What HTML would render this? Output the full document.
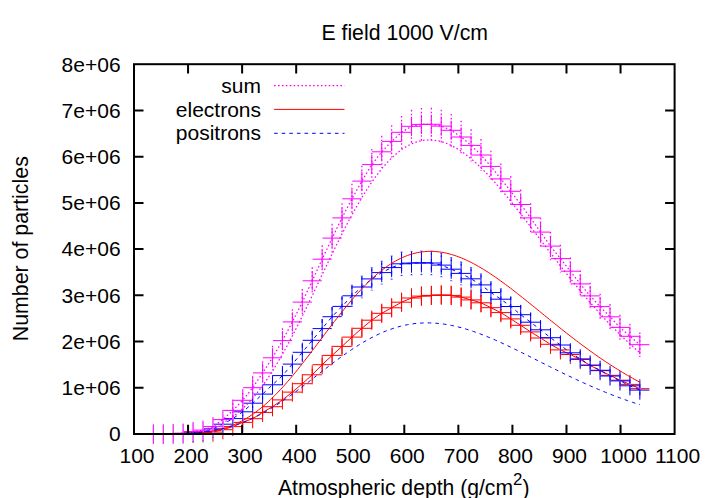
<!DOCTYPE html>
<html><head><meta charset="utf-8"><title>E field 1000 V/cm</title>
<style>html,body{margin:0;padding:0;background:#fff;}svg{display:block;}text{font-family:"Liberation Sans",sans-serif;font-size:21px;fill:#000;}</style></head><body>
<svg width="709" height="498" viewBox="0 0 709 498">
<rect x="0" y="0" width="709" height="498" fill="#fff"/>
<g fill="none" stroke-width="1" stroke-linecap="butt" stroke-linejoin="round">
<path d="M153.40,434.30 L163.33,434.30 L173.25,434.10 L183.18,433.90 L193.11,433.40 L203.03,432.90 L212.96,432.10 L222.89,429.70 L232.82,426.60 L242.74,422.40 L252.67,418.70 L262.60,412.40 L272.52,406.70 L282.45,399.90 L292.38,392.10 L302.31,383.70 L312.23,374.80 L322.16,364.70 L332.09,355.40 L342.01,346.40 L351.94,337.10 L361.87,328.30 L371.79,320.20 L381.72,313.30 L391.65,307.80 L401.57,302.20 L411.50,298.00 L421.43,296.10 L431.36,295.40 L441.28,295.00 L451.21,295.40 L461.14,297.10 L471.06,299.90 L480.99,302.80 L490.92,307.70 L500.85,312.60 L510.77,318.90 L520.70,325.30 L530.63,331.90 L540.55,338.00 L550.48,344.30 L560.41,349.90 L570.33,354.50 L580.26,359.50 L590.19,365.40 L600.12,370.70 L610.04,375.30 L619.97,380.20 L629.90,384.40 L639.82,388.70" stroke="#ff0000"/>
<path d="M153.40,434.30V434.30M163.33,434.30V434.30M173.25,433.74V434.46M183.18,433.39V434.41M193.11,432.64V434.16M203.03,431.95V433.85M212.96,430.91V433.29M222.89,427.98V431.42M232.82,424.38V428.82M242.74,419.64V425.16M252.67,415.54V421.86M262.60,408.66V416.14M272.52,402.50V410.90M282.45,395.21V404.59M292.38,386.90V397.30M302.31,378.01V389.39M312.23,368.63V380.97M322.16,358.03V371.37M332.09,348.29V362.51M342.01,338.90V353.90M351.94,329.21V344.99M361.87,320.06V336.54M371.79,311.65V328.75M381.72,304.50V322.10M391.65,298.80V316.80M401.57,293.01V311.39M411.50,288.66V307.34M421.43,286.70V305.50M431.36,285.97V304.83M441.28,285.56V304.44M451.21,285.97V304.83M461.14,287.73V306.47M471.06,290.63V309.17M480.99,293.63V311.97M490.92,298.70V316.70M500.85,303.77V321.43M510.77,310.31V327.49M520.70,316.95V333.65M530.63,323.80V340.00M540.55,330.15V345.85M550.48,336.71V351.89M560.41,342.55V357.25M570.33,347.35V361.65M580.26,352.58V366.42M590.19,358.76V372.04M600.12,364.32V377.08M610.04,369.16V381.44M619.97,374.32V386.08M629.90,378.75V390.05M639.82,383.30V394.10" stroke="#ff0000"/>
<path d="M143.80,434.30H163.00M153.40,424.70V443.90M153.73,434.30H172.93M163.33,424.70V443.90M163.65,434.10H182.85M173.25,424.50V443.70M173.58,433.90H192.78M183.18,424.30V443.50M183.51,433.40H202.71M193.11,423.80V443.00M193.44,432.90H212.63M203.03,423.30V442.50M203.36,432.10H222.56M212.96,422.50V441.70M213.29,429.70H232.49M222.89,420.10V439.30M223.22,426.60H242.42M232.82,417.00V436.20M233.14,422.40H252.34M242.74,412.80V432.00M243.07,418.70H262.27M252.67,409.10V428.30M253.00,412.40H272.20M262.60,402.80V422.00M262.92,406.70H282.12M272.52,397.10V416.30M272.85,399.90H292.05M282.45,390.30V409.50M282.78,392.10H301.98M292.38,382.50V401.70M292.70,383.70H311.91M302.31,374.10V393.30M302.63,374.80H321.83M312.23,365.20V384.40M312.56,364.70H331.76M322.16,355.10V374.30M322.49,355.40H341.69M332.09,345.80V365.00M332.41,346.40H351.61M342.01,336.80V356.00M342.34,337.10H361.54M351.94,327.50V346.70M352.27,328.30H371.47M361.87,318.70V337.90M362.19,320.20H381.39M371.79,310.60V329.80M372.12,313.30H391.32M381.72,303.70V322.90M382.05,307.80H401.25M391.65,298.20V317.40M391.97,302.20H411.18M401.57,292.60V311.80M401.90,298.00H421.10M411.50,288.40V307.60M411.83,296.10H431.03M421.43,286.50V305.70M421.76,295.40H440.96M431.36,285.80V305.00M431.68,295.00H450.88M441.28,285.40V304.60M441.61,295.40H460.81M451.21,285.80V305.00M451.54,297.10H470.74M461.14,287.50V306.70M461.46,299.90H480.66M471.06,290.30V309.50M471.39,302.80H490.59M480.99,293.20V312.40M481.32,307.70H500.52M490.92,298.10V317.30M491.25,312.60H510.45M500.85,303.00V322.20M501.17,318.90H520.37M510.77,309.30V328.50M511.10,325.30H530.30M520.70,315.70V334.90M521.03,331.90H540.23M530.63,322.30V341.50M530.95,338.00H550.15M540.55,328.40V347.60M540.88,344.30H560.08M550.48,334.70V353.90M550.81,349.90H570.01M560.41,340.30V359.50M560.73,354.50H579.93M570.33,344.90V364.10M570.66,359.50H589.86M580.26,349.90V369.10M580.59,365.40H599.79M590.19,355.80V375.00M590.51,370.70H609.72M600.12,361.10V380.30M600.44,375.30H619.64M610.04,365.70V384.90M610.37,380.20H629.57M619.97,370.60V389.80M620.30,384.40H639.50M629.90,374.80V394.00M630.22,388.70H649.42M639.82,379.10V398.30" stroke="#ff0000"/>
<path d="M153.40,424.70V443.90M163.33,424.60V443.80M173.25,424.40V443.60M183.18,424.00V443.20M193.11,423.10V442.30M203.03,421.90V441.10M212.96,419.20V438.40M222.89,414.60V433.80M232.82,409.00V428.20M242.74,402.20V421.40M252.67,393.60V412.80M262.60,384.50V403.70M272.52,375.20V394.40M282.45,366.00V385.20M292.38,354.50V373.70M302.31,342.70V361.90M312.23,330.70V349.90M322.16,319.00V338.20M332.09,307.10V326.30M342.01,296.80V316.00M351.94,286.20V305.40M361.87,277.40V296.60M371.79,269.30V288.50M381.72,263.00V282.20M391.65,258.00V277.20M401.57,254.20V273.40M411.50,253.50V272.70M421.43,253.20V272.40M431.36,253.40V272.60M441.28,255.50V274.70M451.21,259.60V278.80M461.14,263.80V283.00M471.06,269.20V288.40M480.99,275.30V294.50M490.92,282.90V302.10M500.85,289.60V308.80M510.77,296.90V316.10M520.70,305.10V324.30M530.63,312.60V331.80M540.55,320.20V339.40M550.48,328.10V347.30M560.41,335.40V354.60M570.33,343.20V362.40M580.26,349.30V368.50M590.19,355.50V374.70M600.12,360.70V379.90M610.04,366.40V385.60M619.97,371.30V390.50M629.90,376.20V395.40M639.82,380.50V399.70" stroke="#fff" stroke-width="1.5"/>
<path d="M153.40,434.30 L163.33,434.20 L173.25,434.00 L183.18,433.60 L193.11,432.70 L203.03,431.50 L212.96,428.80 L222.89,424.20 L232.82,418.60 L242.74,411.80 L252.67,403.20 L262.60,394.10 L272.52,384.80 L282.45,375.60 L292.38,364.10 L302.31,352.30 L312.23,340.30 L322.16,328.60 L332.09,316.70 L342.01,306.40 L351.94,295.80 L361.87,287.00 L371.79,278.90 L381.72,272.60 L391.65,267.60 L401.57,263.80 L411.50,263.10 L421.43,262.80 L431.36,263.00 L441.28,265.10 L451.21,269.20 L461.14,273.40 L471.06,278.80 L480.99,284.90 L490.92,292.50 L500.85,299.20 L510.77,306.50 L520.70,314.70 L530.63,322.20 L540.55,329.80 L550.48,337.70 L560.41,345.00 L570.33,352.80 L580.26,358.90 L590.19,365.10 L600.12,370.30 L610.04,376.00 L619.97,380.90 L629.90,385.80 L639.82,390.10" stroke="#0000ff" stroke-dasharray="3.6 4"/>
<path d="M153.40,434.30V434.30M163.33,433.92V434.48M173.25,433.51V434.49M183.18,432.85V434.35M193.11,431.56V433.84M203.03,429.99V433.01M212.96,426.69V430.91M222.89,421.34V427.06M232.82,415.03V422.17M242.74,407.53V416.07M252.67,398.18V408.22M262.60,388.39V399.81M272.52,378.47V391.13M282.45,368.70V382.50M292.38,356.56V371.64M302.31,344.15V360.45M312.23,331.57V349.03M322.16,319.35V337.85M332.09,306.94V326.46M342.01,296.22V316.58M351.94,285.21V306.39M361.87,276.08V297.92M371.79,267.68V290.12M381.72,261.16V284.04M391.65,255.98V279.22M401.57,252.05V275.55M411.50,251.32V274.88M421.43,251.01V274.59M431.36,251.22V274.78M441.28,253.39V276.81M451.21,257.64V280.76M461.14,261.98V284.82M471.06,267.58V290.02M480.99,273.90V295.90M490.92,281.78V303.22M500.85,288.74V309.66M510.77,296.33V316.67M520.70,304.86V324.54M530.63,312.67V331.73M540.55,320.60V339.00M550.48,328.85V346.55M560.41,336.50V353.50M570.33,344.68V360.92M580.26,351.09V366.71M590.19,357.61V372.59M600.12,363.10V377.50M610.04,369.13V382.87M619.97,374.32V387.48M629.90,379.53V392.07M639.82,384.12V396.08" stroke="#0000ff" stroke-dasharray="3.6 4"/>
<path d="M350.84,285.21h2.2M350.84,306.39h2.2M360.77,276.08h2.2M360.77,297.92h2.2M370.69,267.68h2.2M370.69,290.12h2.2M380.62,261.16h2.2M380.62,284.04h2.2M390.55,255.98h2.2M390.55,279.22h2.2M400.47,252.05h2.2M400.47,275.55h2.2M410.40,251.32h2.2M410.40,274.88h2.2M420.33,251.01h2.2M420.33,274.59h2.2M430.26,251.22h2.2M430.26,274.78h2.2M440.18,253.39h2.2M440.18,276.81h2.2M450.11,257.64h2.2M450.11,280.76h2.2M460.04,261.98h2.2M460.04,284.82h2.2M469.96,267.58h2.2M469.96,290.02h2.2M479.89,273.90h2.2M479.89,295.90h2.2M489.82,281.78h2.2M489.82,303.22h2.2M499.75,288.74h2.2M499.75,309.66h2.2" stroke="#0000ff" stroke-opacity="0.55"/>
<path d="M143.80,434.30H163.00M153.40,424.70V443.90M153.73,434.20H172.93M163.33,424.60V443.80M163.65,434.00H182.85M173.25,424.40V443.60M173.58,433.60H192.78M183.18,424.00V443.20M183.51,432.70H202.71M193.11,423.10V442.30M193.44,431.50H212.63M203.03,421.90V441.10M203.36,428.80H222.56M212.96,419.20V438.40M213.29,424.20H232.49M222.89,414.60V433.80M223.22,418.60H242.42M232.82,409.00V428.20M233.14,411.80H252.34M242.74,402.20V421.40M243.07,403.20H262.27M252.67,393.60V412.80M253.00,394.10H272.20M262.60,384.50V403.70M262.92,384.80H282.12M272.52,375.20V394.40M272.85,375.60H292.05M282.45,366.00V385.20M282.78,364.10H301.98M292.38,354.50V373.70M292.70,352.30H311.91M302.31,342.70V361.90M302.63,340.30H321.83M312.23,330.70V349.90M312.56,328.60H331.76M322.16,319.00V338.20M322.49,316.70H341.69M332.09,307.10V326.30M332.41,306.40H351.61M342.01,296.80V316.00M342.34,295.80H361.54M351.94,286.20V305.40M352.27,287.00H371.47M361.87,277.40V296.60M362.19,278.90H381.39M371.79,269.30V288.50M372.12,272.60H391.32M381.72,263.00V282.20M382.05,267.60H401.25M391.65,258.00V277.20M391.97,263.80H411.18M401.57,254.20V273.40M401.90,263.10H421.10M411.50,253.50V272.70M411.83,262.80H431.03M421.43,253.20V272.40M421.76,263.00H440.96M431.36,253.40V272.60M431.68,265.10H450.88M441.28,255.50V274.70M441.61,269.20H460.81M451.21,259.60V278.80M451.54,273.40H470.74M461.14,263.80V283.00M461.46,278.80H480.66M471.06,269.20V288.40M471.39,284.90H490.59M480.99,275.30V294.50M481.32,292.50H500.52M490.92,282.90V302.10M491.25,299.20H510.45M500.85,289.60V308.80M501.17,306.50H520.37M510.77,296.90V316.10M511.10,314.70H530.30M520.70,305.10V324.30M521.03,322.20H540.23M530.63,312.60V331.80M530.95,329.80H550.15M540.55,320.20V339.40M540.88,337.70H560.08M550.48,328.10V347.30M550.81,345.00H570.01M560.41,335.40V354.60M560.73,352.80H579.93M570.33,343.20V362.40M570.66,358.90H589.86M580.26,349.30V368.50M580.59,365.10H599.79M590.19,355.50V374.70M590.51,370.30H609.72M600.12,360.70V379.90M600.44,376.00H619.64M610.04,366.40V385.60M610.37,380.90H629.57M619.97,371.30V390.50M620.30,385.80H639.50M629.90,376.20V395.40M630.22,390.10H649.42M639.82,380.50V399.70" stroke="#0000ff"/>
<path d="M153.40,424.70V443.90M163.33,424.60V443.80M173.25,424.20V443.40M183.18,423.60V442.80M193.11,421.90V441.10M203.03,420.50V439.70M212.96,417.00V436.20M222.89,410.00V429.20M232.82,400.80V420.00M242.74,390.70V409.90M252.67,378.10V397.30M262.60,363.30V382.50M272.52,348.20V367.40M282.45,331.00V350.20M292.38,312.30V331.50M302.31,292.50V311.70M312.23,271.20V290.40M322.16,249.60V268.80M332.09,228.50V247.70M342.01,208.30V227.50M351.94,189.20V208.40M361.87,171.50V190.70M371.79,155.00V174.20M381.72,142.20V161.40M391.65,131.80V151.00M401.57,122.70V141.90M411.50,116.70V135.90M421.43,114.80V134.00M431.36,114.70V133.90M441.28,116.50V135.70M451.21,120.70V139.90M461.14,127.40V146.60M471.06,135.80V155.00M480.99,145.40V164.60M490.92,156.80V176.00M500.85,169.30V188.50M510.77,181.70V200.90M520.70,194.90V214.10M530.63,208.30V227.50M540.55,222.50V241.70M550.48,236.50V255.70M560.41,249.00V268.20M570.33,261.60V280.80M580.26,274.30V293.50M590.19,286.30V305.50M600.12,297.00V316.20M610.04,307.20V326.40M619.97,317.80V337.00M629.90,326.70V345.90M639.82,335.10V354.30" stroke="#fff" stroke-width="1.5"/>
<path d="M153.40,434.30 L163.33,434.20 L173.25,433.80 L183.18,433.20 L193.11,431.50 L203.03,430.10 L212.96,426.60 L222.89,419.60 L232.82,410.40 L242.74,400.30 L252.67,387.70 L262.60,372.90 L272.52,357.80 L282.45,340.60 L292.38,321.90 L302.31,302.10 L312.23,280.80 L322.16,259.20 L332.09,238.10 L342.01,217.90 L351.94,198.80 L361.87,181.10 L371.79,164.60 L381.72,151.80 L391.65,141.40 L401.57,132.30 L411.50,126.30 L421.43,124.40 L431.36,124.30 L441.28,126.10 L451.21,130.30 L461.14,137.00 L471.06,145.40 L480.99,155.00 L490.92,166.40 L500.85,178.90 L510.77,191.30 L520.70,204.50 L530.63,217.90 L540.55,232.10 L550.48,246.10 L560.41,258.60 L570.33,271.20 L580.26,283.90 L590.19,295.90 L600.12,306.60 L610.04,316.80 L619.97,327.40 L629.90,336.30 L639.82,344.70" stroke="#ff00ff" stroke-dasharray="1.6 2.3" stroke-width="1.25"/>
<path d="M153.40,434.30V434.30M163.33,434.20V434.20M173.25,433.80V433.80M183.18,433.20V433.20M193.11,431.50V431.50M203.03,430.10V430.10M212.96,426.60V426.60M222.89,419.60V419.60M232.82,399.44V421.36M242.74,389.14V411.46M252.67,376.30V399.10M262.60,361.21V384.59M272.52,345.82V369.78M282.45,328.29V352.91M292.38,309.22V334.58M302.31,289.04V315.16M312.23,267.33V294.27M322.16,245.31V273.09M332.09,223.80V252.40M342.01,203.21V232.59M351.94,183.74V213.86M361.87,165.70V196.50M371.79,148.88V180.32M381.72,135.83V167.77M391.65,125.23V157.57M401.57,115.95V148.65M411.50,109.84V142.76M421.43,107.90V140.90M431.36,107.80V140.80M441.28,109.63V142.57M451.21,113.92V146.68M461.14,120.75V153.25M471.06,129.31V161.49M480.99,139.09V170.91M490.92,150.71V182.09M500.85,163.46V194.34M510.77,176.10V206.50M520.70,189.55V219.45M530.63,203.21V232.59M540.55,217.69V246.51M550.48,231.96V260.24M560.41,244.70V272.50M570.33,257.54V284.86M580.26,270.49V297.31M590.19,282.72V309.08M600.12,293.63V319.57M610.04,304.03V329.57M619.97,314.83V339.97M629.90,323.90V348.70M639.82,332.47V356.93" stroke="#ff00ff" stroke-dasharray="1.6 2.3" stroke-width="1.25"/>
<path d="M143.80,434.30H163.00M153.40,424.70V443.90M153.73,434.20H172.93M163.33,424.60V443.80M163.65,433.80H182.85M173.25,424.20V443.40M173.58,433.20H192.78M183.18,423.60V442.80M183.51,431.50H202.71M193.11,421.90V441.10M193.44,430.10H212.63M203.03,420.50V439.70M203.36,426.60H222.56M212.96,417.00V436.20M213.29,419.60H232.49M222.89,410.00V429.20M223.22,410.40H242.42M232.82,400.80V420.00M233.14,400.30H252.34M242.74,390.70V409.90M243.07,387.70H262.27M252.67,378.10V397.30M253.00,372.90H272.20M262.60,363.30V382.50M262.92,357.80H282.12M272.52,348.20V367.40M272.85,340.60H292.05M282.45,331.00V350.20M282.78,321.90H301.98M292.38,312.30V331.50M292.70,302.10H311.91M302.31,292.50V311.70M302.63,280.80H321.83M312.23,271.20V290.40M312.56,259.20H331.76M322.16,249.60V268.80M322.49,238.10H341.69M332.09,228.50V247.70M332.41,217.90H351.61M342.01,208.30V227.50M342.34,198.80H361.54M351.94,189.20V208.40M352.27,181.10H371.47M361.87,171.50V190.70M362.19,164.60H381.39M371.79,155.00V174.20M372.12,151.80H391.32M381.72,142.20V161.40M382.05,141.40H401.25M391.65,131.80V151.00M391.97,132.30H411.18M401.57,122.70V141.90M401.90,126.30H421.10M411.50,116.70V135.90M411.83,124.40H431.03M421.43,114.80V134.00M421.76,124.30H440.96M431.36,114.70V133.90M431.68,126.10H450.88M441.28,116.50V135.70M441.61,130.30H460.81M451.21,120.70V139.90M451.54,137.00H470.74M461.14,127.40V146.60M461.46,145.40H480.66M471.06,135.80V155.00M471.39,155.00H490.59M480.99,145.40V164.60M481.32,166.40H500.52M490.92,156.80V176.00M491.25,178.90H510.45M500.85,169.30V188.50M501.17,191.30H520.37M510.77,181.70V200.90M511.10,204.50H530.30M520.70,194.90V214.10M521.03,217.90H540.23M530.63,208.30V227.50M530.95,232.10H550.15M540.55,222.50V241.70M540.88,246.10H560.08M550.48,236.50V255.70M550.81,258.60H570.01M560.41,249.00V268.20M560.73,271.20H579.93M570.33,261.60V280.80M570.66,283.90H589.86M580.26,274.30V293.50M580.59,295.90H599.79M590.19,286.30V305.50M590.51,306.60H609.72M600.12,297.00V316.20M600.44,316.80H619.64M610.04,307.20V326.40M610.37,327.40H629.57M619.97,317.80V337.00M620.30,336.30H639.50M629.90,326.70V345.90M630.22,344.70H649.42M639.82,335.10V354.30" stroke="#ff00ff"/>
<path d="M153.40,434.24 L155.84,434.22 L158.29,434.20 L160.73,434.17 L163.18,434.13 L165.62,434.08 L168.07,434.03 L170.51,433.95 L172.95,433.87 L175.40,433.77 L177.84,433.64 L180.29,433.50 L182.73,433.32 L185.18,433.12 L187.62,432.88 L190.07,432.60 L192.51,432.29 L194.95,431.92 L197.40,431.51 L199.84,431.04 L202.29,430.50 L204.73,429.91 L207.18,429.24 L209.62,428.49 L212.06,427.67 L214.51,426.76 L216.95,425.76 L219.40,424.67 L221.84,423.47 L224.29,422.17 L226.73,420.76 L229.17,419.24 L231.62,417.60 L234.06,415.84 L236.51,413.96 L238.95,411.95 L241.40,409.82 L243.84,407.55 L246.28,405.15 L248.73,402.61 L251.17,399.94 L253.62,397.13 L256.06,394.19 L258.51,391.12 L260.95,387.91 L263.40,384.56 L265.84,381.09 L268.28,377.48 L270.73,373.75 L273.17,369.90 L275.62,365.93 L278.06,361.84 L280.51,357.64 L282.95,353.33 L285.39,348.92 L287.84,344.41 L290.28,339.82 L292.73,335.14 L295.17,330.38 L297.62,325.55 L300.06,320.65 L302.50,315.70 L304.95,310.69 L307.39,305.65 L309.84,300.56 L312.28,295.45 L314.73,290.31 L317.17,285.16 L319.61,280.01 L322.06,274.86 L324.50,269.72 L326.95,264.59 L329.39,259.49 L331.84,254.42 L334.28,249.40 L336.73,244.42 L339.17,239.49 L341.61,234.63 L344.06,229.83 L346.50,225.11 L348.95,220.47 L351.39,215.92 L353.84,211.46 L356.28,207.10 L358.72,202.84 L361.17,198.70 L363.61,194.67 L366.06,190.76 L368.50,186.97 L370.95,183.32 L373.39,179.79 L375.83,176.41 L378.28,173.16 L380.72,170.05 L383.17,167.09 L385.61,164.27 L388.06,161.61 L390.50,159.10 L392.94,156.74 L395.39,154.53 L397.83,152.48 L400.28,150.59 L402.72,148.85 L405.17,147.27 L407.61,145.84 L410.06,144.58 L412.50,143.46 L414.94,142.51 L417.39,141.70 L419.83,141.05 L422.28,140.56 L424.72,140.21 L427.17,140.01 L429.61,139.95 L432.05,140.05 L434.50,140.28 L436.94,140.65 L439.39,141.16 L441.83,141.80 L444.28,142.57 L446.72,143.48 L449.16,144.50 L451.61,145.65 L454.05,146.92 L456.50,148.30 L458.94,149.80 L461.39,151.40 L463.83,153.11 L466.28,154.92 L468.72,156.83 L471.16,158.83 L473.61,160.92 L476.05,163.10 L478.50,165.37 L480.94,167.71 L483.39,170.13 L485.83,172.62 L488.27,175.18 L490.72,177.80 L493.16,180.48 L495.61,183.23 L498.05,186.02 L500.50,188.87 L502.94,191.77 L505.38,194.70 L507.83,197.68 L510.27,200.70 L512.72,203.75 L515.16,206.83 L517.61,209.93 L520.05,213.06 L522.49,216.22 L524.94,219.39 L527.38,222.57 L529.83,225.77 L532.27,228.98 L534.72,232.20 L537.16,235.42 L539.61,238.65 L542.05,241.87 L544.49,245.09 L546.94,248.31 L549.38,251.52 L551.83,254.72 L554.27,257.92 L556.72,261.09 L559.16,264.26 L561.60,267.41 L564.05,270.54 L566.49,273.65 L568.94,276.74 L571.38,279.80 L573.83,282.85 L576.27,285.86 L578.71,288.85 L581.16,291.82 L583.60,294.75 L586.05,297.66 L588.49,300.53 L590.94,303.37 L593.38,306.18 L595.82,308.96 L598.27,311.70 L600.71,314.41 L603.16,317.08 L605.60,319.72 L608.05,322.32 L610.49,324.88 L612.94,327.40 L615.38,329.89 L617.82,332.34 L620.27,334.75 L622.71,337.13 L625.16,339.46 L627.60,341.76 L630.05,344.02 L632.49,346.24 L634.93,348.42 L637.38,350.56 L639.82,352.66" stroke="#ff00ff" stroke-dasharray="1.6 2.3" stroke-width="1.25"/>
<path d="M153.40,434.30 L155.84,434.29 L158.29,434.29 L160.73,434.29 L163.18,434.28 L165.62,434.27 L168.07,434.25 L170.51,434.23 L172.95,434.21 L175.40,434.17 L177.84,434.13 L180.29,434.08 L182.73,434.01 L185.18,433.93 L187.62,433.83 L190.07,433.71 L192.51,433.57 L194.95,433.40 L197.40,433.21 L199.84,432.98 L202.29,432.72 L204.73,432.43 L207.18,432.09 L209.62,431.70 L212.06,431.27 L214.51,430.79 L216.95,430.25 L219.40,429.66 L221.84,429.00 L224.29,428.28 L226.73,427.49 L229.17,426.63 L231.62,425.69 L234.06,424.69 L236.51,423.60 L238.95,422.43 L241.40,421.18 L243.84,419.85 L246.28,418.43 L248.73,416.93 L251.17,415.34 L253.62,413.66 L256.06,411.89 L258.51,410.04 L260.95,408.09 L263.40,406.06 L265.84,403.95 L268.28,401.75 L270.73,399.46 L273.17,397.10 L275.62,394.66 L278.06,392.14 L280.51,389.54 L282.95,386.88 L285.39,384.15 L287.84,381.35 L290.28,378.49 L292.73,375.58 L295.17,372.61 L297.62,369.59 L300.06,366.53 L302.50,363.43 L304.95,360.29 L307.39,357.12 L309.84,353.93 L312.28,350.72 L314.73,347.48 L317.17,344.24 L319.61,340.99 L322.06,337.74 L324.50,334.50 L326.95,331.26 L329.39,328.04 L331.84,324.83 L334.28,321.65 L336.73,318.50 L339.17,315.37 L341.61,312.29 L344.06,309.25 L346.50,306.25 L348.95,303.30 L351.39,300.41 L353.84,297.57 L356.28,294.80 L358.72,292.09 L361.17,289.44 L363.61,286.88 L366.06,284.38 L368.50,281.96 L370.95,279.63 L373.39,277.37 L375.83,275.20 L378.28,273.12 L380.72,271.13 L383.17,269.22 L385.61,267.41 L388.06,265.70 L390.50,264.08 L392.94,262.55 L395.39,261.12 L397.83,259.79 L400.28,258.56 L402.72,257.42 L405.17,256.39 L407.61,255.45 L410.06,254.61 L412.50,253.86 L414.94,253.22 L417.39,252.67 L419.83,252.22 L422.28,251.86 L424.72,251.60 L427.17,251.43 L429.61,251.35 L432.05,251.36 L434.50,251.46 L436.94,251.65 L439.39,251.92 L441.83,252.28 L444.28,252.72 L446.72,253.24 L449.16,253.84 L451.61,254.52 L454.05,255.27 L456.50,256.09 L458.94,256.99 L461.39,257.95 L463.83,258.98 L466.28,260.07 L468.72,261.22 L471.16,262.43 L473.61,263.70 L476.05,265.03 L478.50,266.40 L480.94,267.83 L483.39,269.30 L485.83,270.82 L488.27,272.39 L490.72,273.99 L493.16,275.63 L495.61,277.31 L498.05,279.03 L500.50,280.77 L502.94,282.55 L505.38,284.35 L507.83,286.18 L510.27,288.03 L512.72,289.91 L515.16,291.80 L517.61,293.71 L520.05,295.64 L522.49,297.58 L524.94,299.53 L527.38,301.50 L529.83,303.47 L532.27,305.45 L534.72,307.43 L537.16,309.42 L539.61,311.41 L542.05,313.40 L544.49,315.39 L546.94,317.38 L549.38,319.37 L551.83,321.35 L554.27,323.32 L556.72,325.29 L559.16,327.25 L561.60,329.19 L564.05,331.13 L566.49,333.06 L568.94,334.97 L571.38,336.87 L573.83,338.76 L576.27,340.63 L578.71,342.49 L581.16,344.33 L583.60,346.15 L586.05,347.95 L588.49,349.74 L590.94,351.51 L593.38,353.25 L595.82,354.98 L598.27,356.68 L600.71,358.37 L603.16,360.03 L605.60,361.67 L608.05,363.29 L610.49,364.89 L612.94,366.47 L615.38,368.02 L617.82,369.55 L620.27,371.05 L622.71,372.53 L625.16,373.99 L627.60,375.43 L630.05,376.84 L632.49,378.23 L634.93,379.59 L637.38,380.93 L639.82,382.25" stroke="#ff0000"/>
<path d="M153.40,434.24 L155.84,434.23 L158.29,434.21 L160.73,434.18 L163.18,434.15 L165.62,434.12 L168.07,434.07 L170.51,434.02 L172.95,433.96 L175.40,433.89 L177.84,433.81 L180.29,433.72 L182.73,433.61 L185.18,433.49 L187.62,433.35 L190.07,433.19 L192.51,433.02 L194.95,432.82 L197.40,432.60 L199.84,432.35 L202.29,432.08 L204.73,431.78 L207.18,431.45 L209.62,431.09 L212.06,430.70 L214.51,430.27 L216.95,429.81 L219.40,429.31 L221.84,428.77 L224.29,428.19 L226.73,427.57 L229.17,426.91 L231.62,426.21 L234.06,425.46 L236.51,424.66 L238.95,423.82 L241.40,422.93 L243.84,422.00 L246.28,421.01 L248.73,419.98 L251.17,418.90 L253.62,417.78 L256.06,416.60 L258.51,415.38 L260.95,414.11 L263.40,412.80 L265.84,411.44 L268.28,410.03 L270.73,408.59 L273.17,407.10 L275.62,405.57 L278.06,404.00 L280.51,402.39 L282.95,400.75 L285.39,399.07 L287.84,397.37 L290.28,395.63 L292.73,393.86 L295.17,392.07 L297.62,390.26 L300.06,388.42 L302.50,386.57 L304.95,384.70 L307.39,382.82 L309.84,380.93 L312.28,379.03 L314.73,377.13 L317.17,375.22 L319.61,373.32 L322.06,371.41 L324.50,369.52 L326.95,367.63 L329.39,365.75 L331.84,363.89 L334.28,362.05 L336.73,360.22 L339.17,358.42 L341.61,356.64 L344.06,354.88 L346.50,353.16 L348.95,351.47 L351.39,349.81 L353.84,348.19 L356.28,346.60 L358.72,345.06 L361.17,343.55 L363.61,342.09 L366.06,340.68 L368.50,339.31 L370.95,337.99 L373.39,336.72 L375.83,335.50 L378.28,334.34 L380.72,333.22 L383.17,332.16 L385.61,331.16 L388.06,330.21 L390.50,329.32 L392.94,328.49 L395.39,327.71 L397.83,326.99 L400.28,326.33 L402.72,325.73 L405.17,325.18 L407.61,324.70 L410.06,324.27 L412.50,323.90 L414.94,323.59 L417.39,323.33 L419.83,323.14 L422.28,323.00 L424.72,322.91 L427.17,322.88 L429.61,322.91 L432.05,322.99 L434.50,323.12 L436.94,323.30 L439.39,323.53 L441.83,323.82 L444.28,324.15 L446.72,324.53 L449.16,324.96 L451.61,325.43 L454.05,325.95 L456.50,326.51 L458.94,327.11 L461.39,327.75 L463.83,328.43 L466.28,329.15 L468.72,329.91 L471.16,330.70 L473.61,331.52 L476.05,332.38 L478.50,333.26 L480.94,334.18 L483.39,335.12 L485.83,336.09 L488.27,337.09 L490.72,338.11 L493.16,339.15 L495.61,340.21 L498.05,341.30 L500.50,342.40 L502.94,343.52 L505.38,344.65 L507.83,345.80 L510.27,346.96 L512.72,348.14 L515.16,349.33 L517.61,350.52 L520.05,351.72 L522.49,352.94 L524.94,354.15 L527.38,355.38 L529.83,356.60 L532.27,357.83 L534.72,359.07 L537.16,360.30 L539.61,361.53 L542.05,362.77 L544.49,364.00 L546.94,365.23 L549.38,366.46 L551.83,367.68 L554.27,368.90 L556.72,370.11 L559.16,371.31 L561.60,372.51 L564.05,373.70 L566.49,374.89 L568.94,376.06 L571.38,377.23 L573.83,378.38 L576.27,379.53 L578.71,380.67 L581.16,381.79 L583.60,382.90 L586.05,384.00 L588.49,385.09 L590.94,386.17 L593.38,387.23 L595.82,388.28 L598.27,389.32 L600.71,390.34 L603.16,391.35 L605.60,392.34 L608.05,393.32 L610.49,394.29 L612.94,395.24 L615.38,396.17 L617.82,397.10 L620.27,398.00 L622.71,398.89 L625.16,399.77 L627.60,400.63 L630.05,401.48 L632.49,402.31 L634.93,403.13 L637.38,403.93 L639.82,404.72" stroke="#0000ff" stroke-dasharray="3.6 4"/>
<path d="M274.1,85.7H344.5" stroke="#ff00ff" stroke-dasharray="1.6 2.3" stroke-width="1.25"/>
<path d="M274.1,109.4H344.5" stroke="#ff0000"/>
<path d="M274.1,133.3H344.5" stroke="#0000ff" stroke-dasharray="3.6 4"/>
</g>
<g fill="none" stroke="#000" stroke-width="2" stroke-linecap="square">
<rect x="134" y="64.2" width="540.6" height="369.8"/>
<path d="M188.06,434.00v-9.2M188.06,64.20v9.2M242.12,434.00v-9.2M242.12,64.20v9.2M296.18,434.00v-9.2M296.18,64.20v9.2M350.24,434.00v-9.2M350.24,64.20v9.2M404.30,434.00v-9.2M404.30,64.20v9.2M458.36,434.00v-9.2M458.36,64.20v9.2M512.42,434.00v-9.2M512.42,64.20v9.2M566.48,434.00v-9.2M566.48,64.20v9.2M620.54,434.00v-9.2M620.54,64.20v9.2M134.00,387.77h9.5M674.60,387.77h-9.5M134.00,341.55h9.5M674.60,341.55h-9.5M134.00,295.32h9.5M674.60,295.32h-9.5M134.00,249.10h9.5M674.60,249.10h-9.5M134.00,202.88h9.5M674.60,202.88h-9.5M134.00,156.65h9.5M674.60,156.65h-9.5M134.00,110.43h9.5M674.60,110.43h-9.5" stroke-linecap="butt"/>
</g>
<text x="120.6" y="441.30" text-anchor="end">0</text>
<text x="120.6" y="395.07" text-anchor="end">1e+06</text>
<text x="120.6" y="348.85" text-anchor="end">2e+06</text>
<text x="120.6" y="302.62" text-anchor="end">3e+06</text>
<text x="120.6" y="256.40" text-anchor="end">4e+06</text>
<text x="120.6" y="210.18" text-anchor="end">5e+06</text>
<text x="120.6" y="163.95" text-anchor="end">6e+06</text>
<text x="120.6" y="117.73" text-anchor="end">7e+06</text>
<text x="120.6" y="71.50" text-anchor="end">8e+06</text>
<text x="137.00" y="462.6" text-anchor="middle">100</text>
<text x="191.06" y="462.6" text-anchor="middle">200</text>
<text x="245.12" y="462.6" text-anchor="middle">300</text>
<text x="299.18" y="462.6" text-anchor="middle">400</text>
<text x="353.24" y="462.6" text-anchor="middle">500</text>
<text x="407.30" y="462.6" text-anchor="middle">600</text>
<text x="461.36" y="462.6" text-anchor="middle">700</text>
<text x="515.42" y="462.6" text-anchor="middle">800</text>
<text x="569.48" y="462.6" text-anchor="middle">900</text>
<text x="623.54" y="462.6" text-anchor="middle">1000</text>
<text x="677.60" y="462.6" text-anchor="middle">1100</text>
<text x="404.7" y="40.2" text-anchor="middle" style="font-size:21.25px">E field 1000 V/cm</text>
<text x="261.0" y="92.9" text-anchor="end">sum</text>
<text x="261.0" y="116.6" text-anchor="end">electrons</text>
<text x="261.0" y="140.4" text-anchor="end">positrons</text>
<text transform="translate(28.2,248.7) rotate(-90)" text-anchor="middle" style="font-size:21.35px">Number of particles</text>
<text x="403.7" y="495" text-anchor="middle" style="font-size:21.16px">Atmospheric depth (g/cm<tspan dy="-10" font-size="16.8px">2</tspan><tspan dy="10">)</tspan></text>
</svg></body></html>
